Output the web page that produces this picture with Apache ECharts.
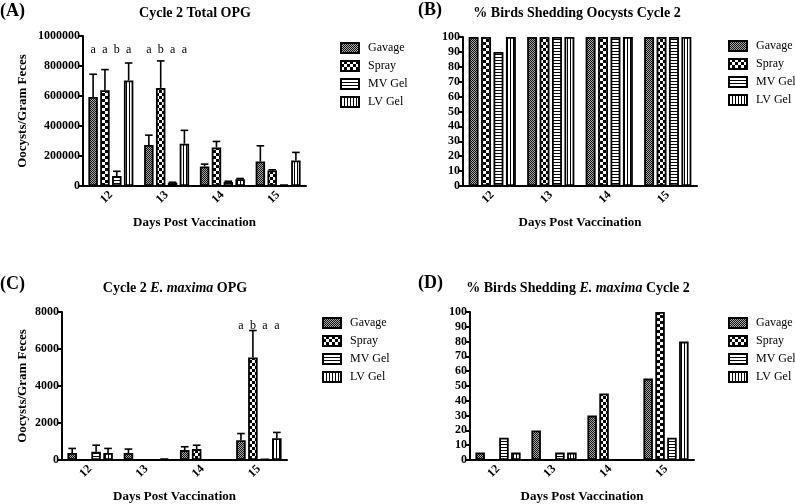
<!DOCTYPE html>
<html><head><meta charset="utf-8">
<script src="https://cdn.jsdelivr.net/npm/echarts@6/dist/echarts.min.js"></script>
<style>html,body{margin:0;padding:0;background:#fff}#c{width:795px;height:504px}</style>
</head><body><div id="c"></div>
<script>
const days = ['12','13','14','15'];
const groups = ['Gavage','Spray','MV Gel','LV Gel'];

// (A) Cycle 2 Total OPG — means and SEM (upper error)
const aGavage = [594000, 273000, 130000, 163000];
const aGavageErr = [151000, 66000, 16000, 105000];
const aSpray = [639000, 654000, 257000, 103000];
const aSprayErr = [137000, 180000, 40000, 5000];
const aMV = [66000, 22000, 27000, 10000];
const aMVErr = [32000, 3000, 5000, 0];
const aLV = [703000, 282000, 45000, 170000];
const aLVErr = [117000, 89000, 5000, 54000];
const aLetters = [['a','a','b','a'], ['a','b','a','a'], null, null];

// (B) % Birds shedding oocysts cycle 2
const bGavage = [100, 100, 100, 100];
const bSpray = [100, 100, 100, 100];
const bMV = [90, 100, 100, 100];
const bLV = [100, 100, 100, 100];

// (C) Cycle 2 E. maxima OPG
const cGavage = [375, 375, 536, 1070];
const cGavageErr = [250, 215, 180, 360];
const cSpray = [0, 0, 590, 5540];
const cSprayErr = [0, 0, 210, 1460];
const cMV = [446, 0, 0, 60];
const cMVErr = [354, 0, 0, 0];
const cLV = [375, 80, 0, 1180];
const cLVErr = [250, 0, 0, 310];
const cLetters = [null, null, null, ['a','b','a','a']];

// (D) % Birds shedding E. maxima cycle 2
const dGavage = [5, 20, 30, 55];
const dSpray = [0, 0, 45, 100];
const dMV = [15, 5, 0, 15];
const dLV = [5, 5, 0, 80];

const FONT = '"Liberation Serif","Times New Roman",serif';
const BW = 0.17, GAP = 0.25;

function pat(w, h, draw) {
  const c = document.createElement('canvas'); c.width = w; c.height = h;
  const g = c.getContext('2d'); g.fillStyle = '#fff'; g.fillRect(0,0,w,h); g.fillStyle = '#000'; draw(g);
  return {image: c, repeat: 'repeat'};
}
const patterns = [
  pat(2, 2, g => { g.fillStyle='#111'; g.fillRect(0,0,1,1); g.fillRect(1,1,1,1); g.fillStyle='#aaa'; g.fillRect(1,0,1,1); g.fillRect(0,1,1,1);} ),
  pat(6, 6, g => { g.fillRect(0,0,6,6); g.fillStyle='#fff'; g.fillRect(0,0,3,3); g.fillRect(3,3,3,3);} ),
  pat(1, 3, g => { g.fillRect(0,0,1,1);} ),
  pat(3, 1, g => { g.fillRect(0,0,1,1);} )
];

const panels = [
  {vals:[aGavage,aSpray,aMV,aLV], errs:[aGavageErr,aSprayErr,aMVErr,aLVErr], letters:aLetters, max:1000000, interval:200000,
   grid:{left:83, top:36, width:223, height:150}, yName:'Oocysts/Gram Feces', yGap:54, legend:{left:340, top:42}},
  {vals:[bGavage,bSpray,bMV,bLV], errs:null, letters:null, max:100, interval:10,
   grid:{left:463, top:37, width:234, height:149}, yName:'', yGap:0, legend:{left:728, top:40}},
  {vals:[cGavage,cSpray,cMV,cLV], errs:[cGavageErr,cSprayErr,cMVErr,cLVErr], letters:cLetters, max:8000, interval:2000,
   grid:{left:62, top:312, width:225, height:149}, yName:'Oocysts/Gram Feces', yGap:33, legend:{left:322, top:317}},
  {vals:[dGavage,dSpray,dMV,dLV], errs:null, letters:null, max:100, interval:10,
   grid:{left:470, top:312, width:224, height:149}, yName:'', yGap:0, legend:{left:728, top:317}}
];

const grids = [], xAxes = [], yAxes = [], series = [], legends = [];
panels.forEach((p, gi) => {
  grids.push(p.grid);
  xAxes.push({type:'category', gridIndex:gi, data:days,
    axisLine:{lineStyle:{color:'#000', width:2}},
    axisTick:{alignWithLabel:true, length:5, lineStyle:{color:'#000', width:2}},
    axisLabel:{rotate:45, color:'#000', fontFamily:FONT, fontWeight:'bold', fontSize:12, margin:7},
    name:'Days Post Vaccination', nameLocation:'middle', nameGap:30,
    nameTextStyle:{color:'#000', fontFamily:FONT, fontWeight:'bold', fontSize:13}});
  yAxes.push({type:'value', gridIndex:gi, min:0, max:p.max, interval:p.interval,
    axisLine:{show:true, lineStyle:{color:'#000', width:2}},
    axisTick:{show:true, length:5, lineStyle:{color:'#000', width:2}},
    splitLine:{show:false},
    axisLabel:{color:'#000', fontFamily:FONT, fontWeight:'bold', fontSize:12, margin:3, formatter:v => String(v)},
    name:p.yName, nameLocation:'middle', nameGap:p.yGap,
    nameTextStyle:{color:'#000', fontFamily:FONT, fontWeight:'bold', fontSize:13}});
  groups.forEach((name, si) => {
    series.push({type:'bar', name:name, xAxisIndex:gi, yAxisIndex:gi, data:p.vals[si],
      barWidth:(BW*100)+'%', barGap:(GAP*100)+'%',
      itemStyle:{color:patterns[si], borderColor:'#000', borderWidth:1.8},
      emphasis:{disabled:true}, animation:false});
  });
  if (p.errs) {
    const data = [], meta = [];
    p.errs.forEach((arr, si) => arr.forEach((e, ci) => { if (e > 0) { data.push([ci, p.vals[si][ci]]); meta.push({s:si, e:e}); } }));
    series.push({type:'custom', xAxisIndex:gi, yAxisIndex:gi, data:data, silent:true, animation:false, z:1,
      renderItem:(params, api) => {
        const m = meta[params.dataIndex];
        const ci = api.value(0), v = api.value(1);
        const band = api.size([1,0])[0];
        const bw = band*BW, step = bw*(1+GAP);
        const x = api.coord([ci, 0])[0] + (m.s - 1.5)*step;
        const y0 = api.coord([ci, v])[1], y1 = api.coord([ci, v + m.e])[1];
        const cap = bw*0.4;
        const st = {stroke:'#000', lineWidth:1.6};
        return {type:'group', children:[
          {type:'line', shape:{x1:x, y1:y0, x2:x, y2:y1}, style:st},
          {type:'line', shape:{x1:x-cap, y1:y1, x2:x+cap, y2:y1}, style:st}]};
      }});
  }
  if (p.letters) {
    const data = [], meta = [];
    p.letters.forEach((row, ci) => { if (row) row.forEach((t, si) => { data.push([ci, 0]); meta.push({s:si, t:t}); }); });
    series.push({type:'custom', xAxisIndex:gi, yAxisIndex:gi, data:data, silent:true, animation:false,
      renderItem:(params, api) => {
        const m = meta[params.dataIndex];
        const ci = api.value(0);
        const band = api.size([1,0])[0];
        const bw = band*BW, step = bw*(1+GAP);
        const x = api.coord([ci, 0])[0] + (m.s - 1.5)*step;
        const y = api.coord([ci, p.max])[1] + 14;
        return {type:'text', x:x, y:y, style:{text:m.t, font:'12px ' + FONT, fill:'#000', align:'center', verticalAlign:'middle'}};
      }});
  }
  legends.push({data:groups, orient:'vertical', left:p.legend.left, top:p.legend.top, itemWidth:18, itemHeight:10, itemGap:6,
    icon:'rect', selectedMode:false, padding:0,
    textStyle:{fontFamily:FONT, fontSize:12, color:'#000', padding:[0,0,0,4], lineHeight:12}});
});

const rich = {b:{fontFamily:FONT, fontWeight:'bold', fontSize:14, color:'#000'}, i:{fontFamily:FONT, fontWeight:'bold', fontStyle:'italic', fontSize:14, color:'#000'}};
function ttl(x, y, text, isRich) {
  return {type:'text', x:x, y:y, style: Object.assign({text:text, align:'center', verticalAlign:'middle', textAlign:'center', textVerticalAlign:'middle',
    font:'bold 14px ' + FONT, fill:'#000'}, isRich ? {rich:rich} : {})};
}
function lab(x, y, text) {
  return {type:'text', x:x, y:y, style:{text:text, font:'bold 18px ' + FONT, fill:'#000', verticalAlign:'middle', textVerticalAlign:'middle'}};
}
const graphic = [
  lab(0, 11, '(A)'), lab(418, 10, '(B)'), lab(0, 284, '(C)'), lab(418, 283, '(D)'),
  ttl(195, 13, 'Cycle 2 Total OPG'),
  ttl(577, 13, '% Birds Shedding Oocysts Cycle 2'),
  ttl(175, 288, '{b|Cycle 2 }{i|E. maxima}{b| OPG}', true),
  ttl(578, 288, '{b|% Birds Shedding }{i|E. maxima}{b| Cycle 2}', true)
];

const chart = echarts.init(document.getElementById('c'), null, {renderer:'canvas'});
chart.setOption({animation:false, grid:grids, xAxis:xAxes, yAxis:yAxes, series:series, legend:legends, graphic:graphic});
</script></body></html>
